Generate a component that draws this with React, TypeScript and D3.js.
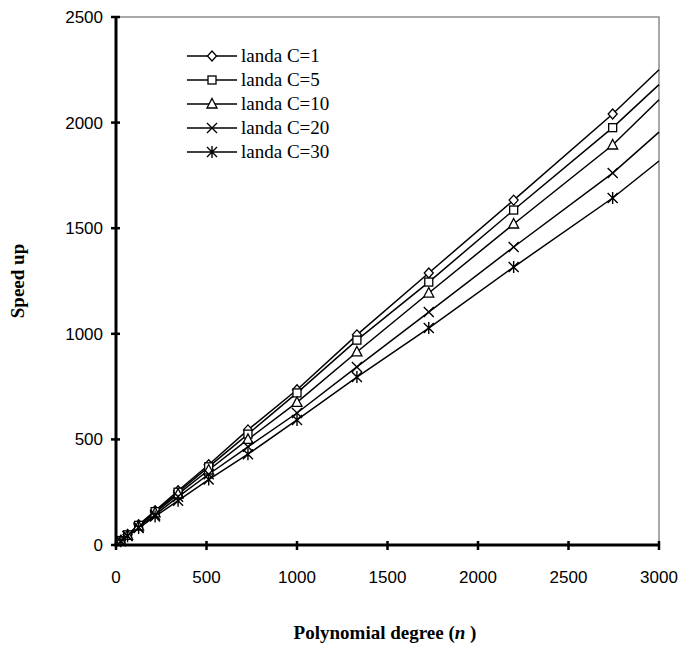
import React from 'react';
import * as d3 from 'd3';

// polynomial degrees (n) where speed up was measured
const degrees = [27, 64, 125, 216, 343, 512, 729, 1000, 1331, 1728, 2197, 2744];

const seriesNames = ['landa C=1', 'landa C=5', 'landa C=10', 'landa C=20', 'landa C=30'];

const speedC1 = [22, 50, 96, 162, 257, 380, 545, 735, 995, 1288, 1633, 2041];
const speedC5 = [21, 48, 93, 158, 250, 370, 525, 720, 970, 1245, 1586, 1976];
const speedC10 = [20, 46, 89, 152, 241, 355, 500, 675, 914, 1193, 1520, 1894];
const speedC20 = [19, 44, 84, 143, 228, 335, 465, 625, 843, 1103, 1411, 1761];
const speedC30 = [18, 42, 80, 135, 210, 310, 430, 592, 795, 1027, 1316, 1643];

// where each line leaves the plot at the right edge (n = 3000)
const edgeDegree = 3000;
const edgeValues = [2250, 2180, 2108, 1955, 1818];

const xTicks = [0, 500, 1000, 1500, 2000, 2500, 3000];
const yTicks = [0, 500, 1000, 1500, 2000, 2500];

const allSeries = [speedC1, speedC5, speedC10, speedC20, speedC30];
const markerKinds = ['diamond', 'square', 'triangle', 'cross', 'asterisk'];

const Marker = ({ kind, x, y }: { kind: string; x: number; y: number }) => {
  const s = 4.5;
  const common = { fill: 'white', stroke: 'black', strokeWidth: 1.3 };
  if (kind === 'diamond') {
    return <path d={`M${x},${y - s - 0.5}L${x + s},${y}L${x},${y + s + 0.5}L${x - s},${y}Z`} {...common} />;
  }
  if (kind === 'square') {
    return <rect x={x - 4} y={y - 4} width={8} height={8} {...common} />;
  }
  if (kind === 'triangle') {
    return <path d={`M${x},${y - 5.5}L${x + 5},${y + 4}L${x - 5},${y + 4}Z`} {...common} />;
  }
  if (kind === 'cross') {
    return <path d={`M${x - 5},${y - 5}L${x + 5},${y + 5}M${x - 5},${y + 5}L${x + 5},${y - 5}`} stroke="black" strokeWidth={1.4} fill="none" />;
  }
  // asterisk
  return (
    <path
      d={`M${x - 5},${y - 5}L${x + 5},${y + 5}M${x - 5},${y + 5}L${x + 5},${y - 5}M${x},${y - 6}L${x},${y + 6}`}
      stroke="black"
      strokeWidth={1.4}
      fill="none"
    />
  );
};

export default function App() {
  const width = 681;
  const height = 646;
  const left = 116, right = 659, top = 17, bottom = 545;

  const xScale = d3.scaleLinear().domain([0, 3000]).range([left, right]);
  const yScale = d3.scaleLinear().domain([0, 2500]).range([bottom, top]);

  const line = d3.line<[number, number]>()
    .x(d => xScale(d[0]))
    .y(d => yScale(d[1]));

  const legendX = 187, legendY0 = 56, legendStep = 24;

  return (
    <svg width={width} height={height} style={{ position: 'absolute', left: 0, top: 0, background: 'white' }}>
      <rect x={0} y={0} width={width} height={height} fill="white" />
      {/* plot frame (grey top/right) */}
      <path d={`M${left},${top}H${right}V${bottom}`} fill="none" stroke="#8c8c8c" strokeWidth={1.5} />

      {/* series lines */}
      {allSeries.map((vals, i) => {
        const pts: [number, number][] = degrees.map((n, j) => [n, vals[j]]);
        pts.push([edgeDegree, edgeValues[i]]);
        return <path key={i} d={line(pts) || ''} fill="none" stroke="black" strokeWidth={1.5} />;
      })}

      {/* markers */}
      {allSeries.map((vals, i) =>
        degrees.map((n, j) => (
          <Marker key={`${i}-${j}`} kind={markerKinds[i]} x={xScale(n)} y={yScale(vals[j])} />
        ))
      )}

      {/* axes */}
      <line x1={left} x2={left} y1={top - 1} y2={bottom + 1.5} stroke="black" strokeWidth={3} />
      <line x1={left - 1.5} x2={right + 1} y1={bottom} y2={bottom} stroke="black" strokeWidth={3} />

      {xTicks.map(t => (
        <g key={t}>
          <line x1={xScale(t)} x2={xScale(t)} y1={bottom - 4} y2={bottom + 5} stroke="black" strokeWidth={2.5} />
          <text x={xScale(t)} y={bottom + 38} textAnchor="middle" fontFamily="'Liberation Sans', Arial, sans-serif" fontSize={17}>
            {t}
          </text>
        </g>
      ))}
      {yTicks.map(t => (
        <g key={t}>
          <line x1={left - 5} x2={left + 4} y1={yScale(t)} y2={yScale(t)} stroke="black" strokeWidth={2.5} />
          <text x={left - 13} y={yScale(t) + 6} textAnchor="end" fontFamily="'Liberation Sans', Arial, sans-serif" fontSize={17}>
            {t}
          </text>
        </g>
      ))}

      {/* axis titles */}
      <text x={385} y={639} textAnchor="middle" fontFamily="'Liberation Serif', 'Times New Roman', serif" fontWeight="bold" fontSize={19}>
        Polynomial degree (<tspan fontStyle="italic">n</tspan> )
      </text>
      <text
        transform={`translate(24,${(top + bottom) / 2}) rotate(-90)`}
        textAnchor="middle"
        fontFamily="'Liberation Serif', 'Times New Roman', serif"
        fontWeight="bold"
        fontSize={19}
      >
        Speed up
      </text>

      {/* legend */}
      {seriesNames.map((name, i) => {
        const y = legendY0 + i * legendStep;
        return (
          <g key={name}>
            <line x1={legendX} x2={legendX + 50} y1={y} y2={y} stroke="black" strokeWidth={1.5} />
            <Marker kind={markerKinds[i]} x={legendX + 25} y={y} />
            <text x={legendX + 54} y={y + 6} fontFamily="'Liberation Serif', 'Times New Roman', serif" fontSize={19}>
              {name}
            </text>
          </g>
        );
      })}
    </svg>
  );
}
